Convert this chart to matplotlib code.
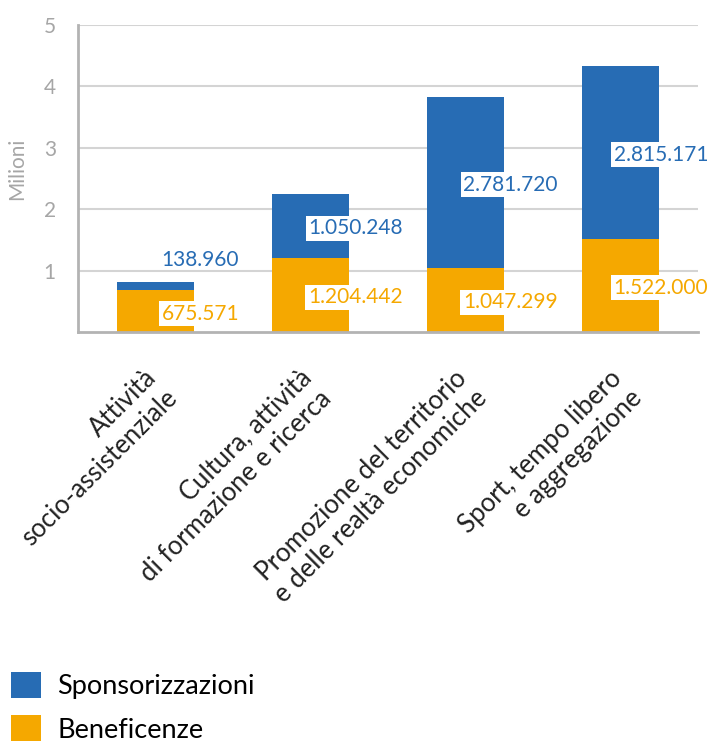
import matplotlib
matplotlib.use("Agg")
import matplotlib.pyplot as plt
import matplotlib.transforms as mtransforms
import numpy as np

plt.rcParams['font.family'] = ['Lato', 'DejaVu Sans']

categories = ["Attività\nsocio-assistenziale",
              "Cultura, attività\ndi formazione e ricerca",
              "Promozione del territorio\ne delle realtà economiche",
              "Sport, tempo libero\ne aggregazione"]
beneficenze = [675571, 1204442, 1047299, 1522000]
sponsorizzazioni = [138960, 1050248, 2781720, 2815171]
benef_labels = ["675.571", "1.204.442", "1.047.299", "1.522.000"]
spons_labels = ["138.960", "1.050.248", "2.781.720", "2.815.171"]

BLUE = "#276cb4"
ORANGE = "#f5a800"
GRAY = "#a6a6a6"

ben = np.array(beneficenze) / 1e6
spo = np.array(sponsorizzazioni) / 1e6
x = np.arange(len(categories))

fig = plt.figure(figsize=(7.12, 7.43), dpi=100)
ax = fig.add_axes([0.1096, 0.5532, 0.8708, 0.4132])

b1 = ax.bar(x, ben, width=0.5, color=ORANGE, zorder=2, label="Beneficenze")
b2 = ax.bar(x, spo, bottom=ben, width=0.5, color=BLUE, zorder=2, label="Sponsorizzazioni")

box = dict(facecolor="white", edgecolor="none", pad=2)
dx = [0.29, 0.29, 0.29, 0.26]
for i in range(len(x)):
    ax.text(x[i] + dx[i], ben[i] / 2 - 0.04, benef_labels[i], color=ORANGE,
            fontsize=15, ha="center", va="center", bbox=box, zorder=3)
    if spo[i] < 0.3:
        ax.text(x[i] + dx[i], ben[i] + spo[i] + 0.36, spons_labels[i], color=BLUE,
                fontsize=15, ha="center", va="center", zorder=3)
    else:
        ax.text(x[i] + dx[i], ben[i] + spo[i] / 2 - 0.04, spons_labels[i], color=BLUE,
                fontsize=15, ha="center", va="center", bbox=box, zorder=3)

ax.set_xlim(-0.5, 3.5)
ax.set_ylim(0, 5)
ax.set_yticks([1, 2, 3, 4, 5])
ax.yaxis.grid(True, color="#d4d4d4", linewidth=1.5, zorder=0)
ax.set_axisbelow(True)
for s in ["top", "right"]:
    ax.spines[s].set_visible(False)
for s in ["left", "bottom"]:
    ax.spines[s].set_color("#b3b3b3")
    ax.spines[s].set_linewidth(2)
ax.tick_params(axis="y", length=0, pad=16, labelsize=15, labelcolor=GRAY)
ax.tick_params(axis="x", length=0, pad=24)
ax.set_xticks(x)
ax.set_xticklabels(categories, rotation=45, ha="right", va="top",
                   rotation_mode="anchor", multialignment="right",
                   linespacing=1.2, fontsize=18.5, color="#222222")
offset = mtransforms.ScaledTranslation(-12 / 100, 0, fig.dpi_scale_trans)
for lab in ax.get_xticklabels():
    lab.set_transform(lab.get_transform() + offset)

ax.set_ylabel("Milioni", fontsize=15, color=GRAY)
ax.yaxis.set_label_coords(-0.082, 0.53)

fig.legend(handles=[b2, b1], loc="upper left", bbox_to_anchor=(0.008, 0.103),
           frameon=False, fontsize=19.5, handlelength=1.1, handleheight=1.1,
           handletextpad=0.6, labelspacing=0.6, borderaxespad=0, borderpad=0.2)

fig.savefig("out.png", dpi=100)
